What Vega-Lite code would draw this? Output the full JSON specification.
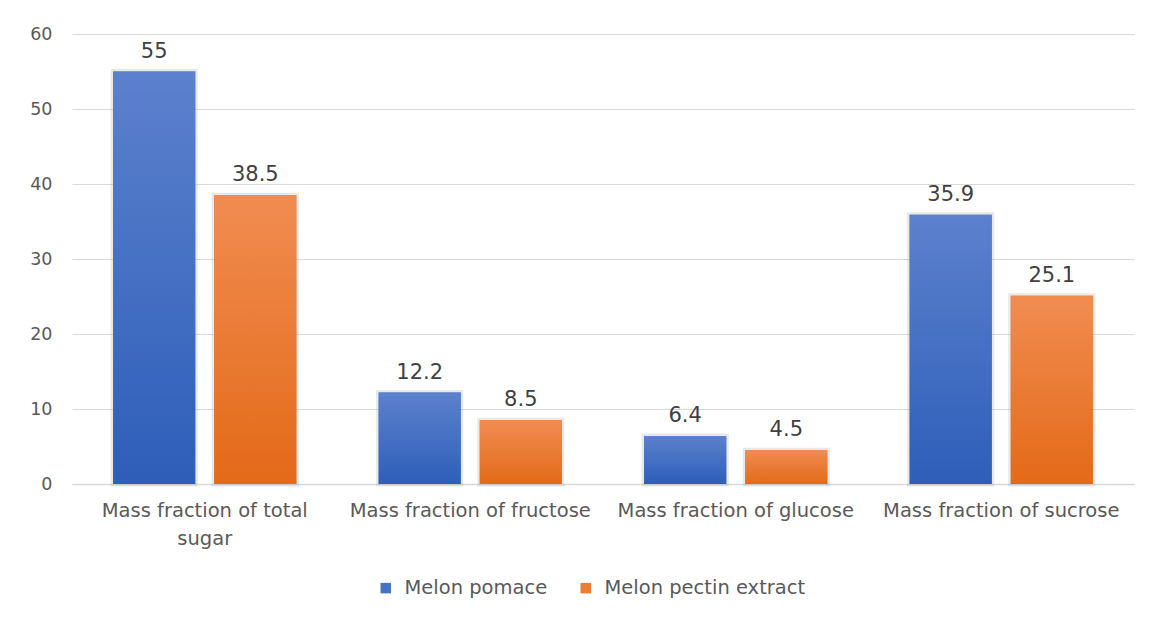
{
  "$schema": "https://vega.github.io/schema/vega-lite/v6.json",
  "width": 1062,
  "height": 450,
  "autosize": {"type": "none"},
  "padding": {"left": 72, "top": 34, "right": 23, "bottom": 135},
  "background": "#ffffff",
  "config": {
    "view": {"stroke": null},
    "font": "DejaVu Sans",
    "axis": {"labelFont": "DejaVu Sans", "labelColor": "#595959"},
    "legend": {"labelFont": "DejaVu Sans", "labelColor": "#595959", "labelFontSize": 19.5, "labelLimit": 400}
  },
  "data": {
    "values": [
      {"category": "Mass fraction of total sugar", "series": "Melon pomace", "value": 55},
      {"category": "Mass fraction of total sugar", "series": "Melon pectin extract", "value": 38.5},
      {"category": "Mass fraction of fructose", "series": "Melon pomace", "value": 12.2},
      {"category": "Mass fraction of fructose", "series": "Melon pectin extract", "value": 8.5},
      {"category": "Mass fraction of glucose", "series": "Melon pomace", "value": 6.4},
      {"category": "Mass fraction of glucose", "series": "Melon pectin extract", "value": 4.5},
      {"category": "Mass fraction of sucrose", "series": "Melon pomace", "value": 35.9},
      {"category": "Mass fraction of sucrose", "series": "Melon pectin extract", "value": 25.1}
    ]
  },
  "encoding": {
    "x": {
      "field": "category",
      "type": "nominal",
      "sort": null,
      "scale": {"paddingInner": 0.31, "paddingOuter": 0.155},
      "axis": {
        "title": null,
        "labelAngle": 0,
        "labelFontSize": 19.5,
        "ticks": false,
        "domainColor": "#d9d9d9",
        "domainWidth": 1.5,
        "labelPadding": 17,
        "labelLineHeight": 28,
        "labelLimit": 300,
        "labelExpr": "datum.value == 'Mass fraction of total sugar' ? ['Mass fraction of total', 'sugar'] : datum.value"
      }
    },
    "xOffset": {
      "field": "series",
      "type": "nominal",
      "sort": ["Melon pomace", "Melon pectin extract"],
      "scale": {"paddingInner": 0.188, "paddingOuter": 0}
    },
    "y": {
      "field": "value",
      "type": "quantitative",
      "scale": {"domain": [0, 60]},
      "axis": {
        "title": null,
        "values": [0, 10, 20, 30, 40, 50, 60],
        "labelFontSize": 17.5,
        "ticks": false,
        "domain": false,
        "gridColor": "#d9d9d9",
        "gridWidth": 1.2,
        "labelPadding": 20
      }
    }
  },
  "layer": [
    {
      "mark": {"type": "bar", "stroke": "#7f7f7f", "strokeOpacity": 0.18, "strokeWidth": 5},
      "encoding": {
        "color": {
          "field": "series",
          "type": "nominal",
          "sort": ["Melon pomace", "Melon pectin extract"],
          "scale": {"domain": ["Melon pomace", "Melon pectin extract"], "range": ["#4472c4", "#ed7d31"]},
          "legend": {
            "title": null,
            "orient": "none",
            "legendX": 304,
            "legendY": 544,
            "direction": "horizontal",
            "symbolType": "square",
            "symbolSize": 110,
            "symbolStrokeWidth": 0,
            "labelOffset": 9,
            "columnPadding": 28
          }
        }
      }
    },
    {
      "transform": [{"filter": "datum.series == 'Melon pomace'"}],
      "mark": {
        "type": "bar",
        "fill": {
          "gradient": "linear", "x1": 0, "y1": 0, "x2": 0, "y2": 1,
          "stops": [{"offset": 0, "color": "#5c81cd"}, {"offset": 1, "color": "#2e5eb9"}]
        }
      }
    },
    {
      "transform": [{"filter": "datum.series == 'Melon pectin extract'"}],
      "mark": {
        "type": "bar",
        "fill": {
          "gradient": "linear", "x1": 0, "y1": 0, "x2": 0, "y2": 1,
          "stops": [{"offset": 0, "color": "#f18c51"}, {"offset": 1, "color": "#e36a18"}]
        }
      }
    },
    {
      "mark": {"type": "text", "baseline": "alphabetic", "dy": -14, "fontSize": 21, "color": "#404040", "font": "DejaVu Sans"},
      "encoding": {"text": {"field": "value", "type": "quantitative"}}
    }
  ]
}
